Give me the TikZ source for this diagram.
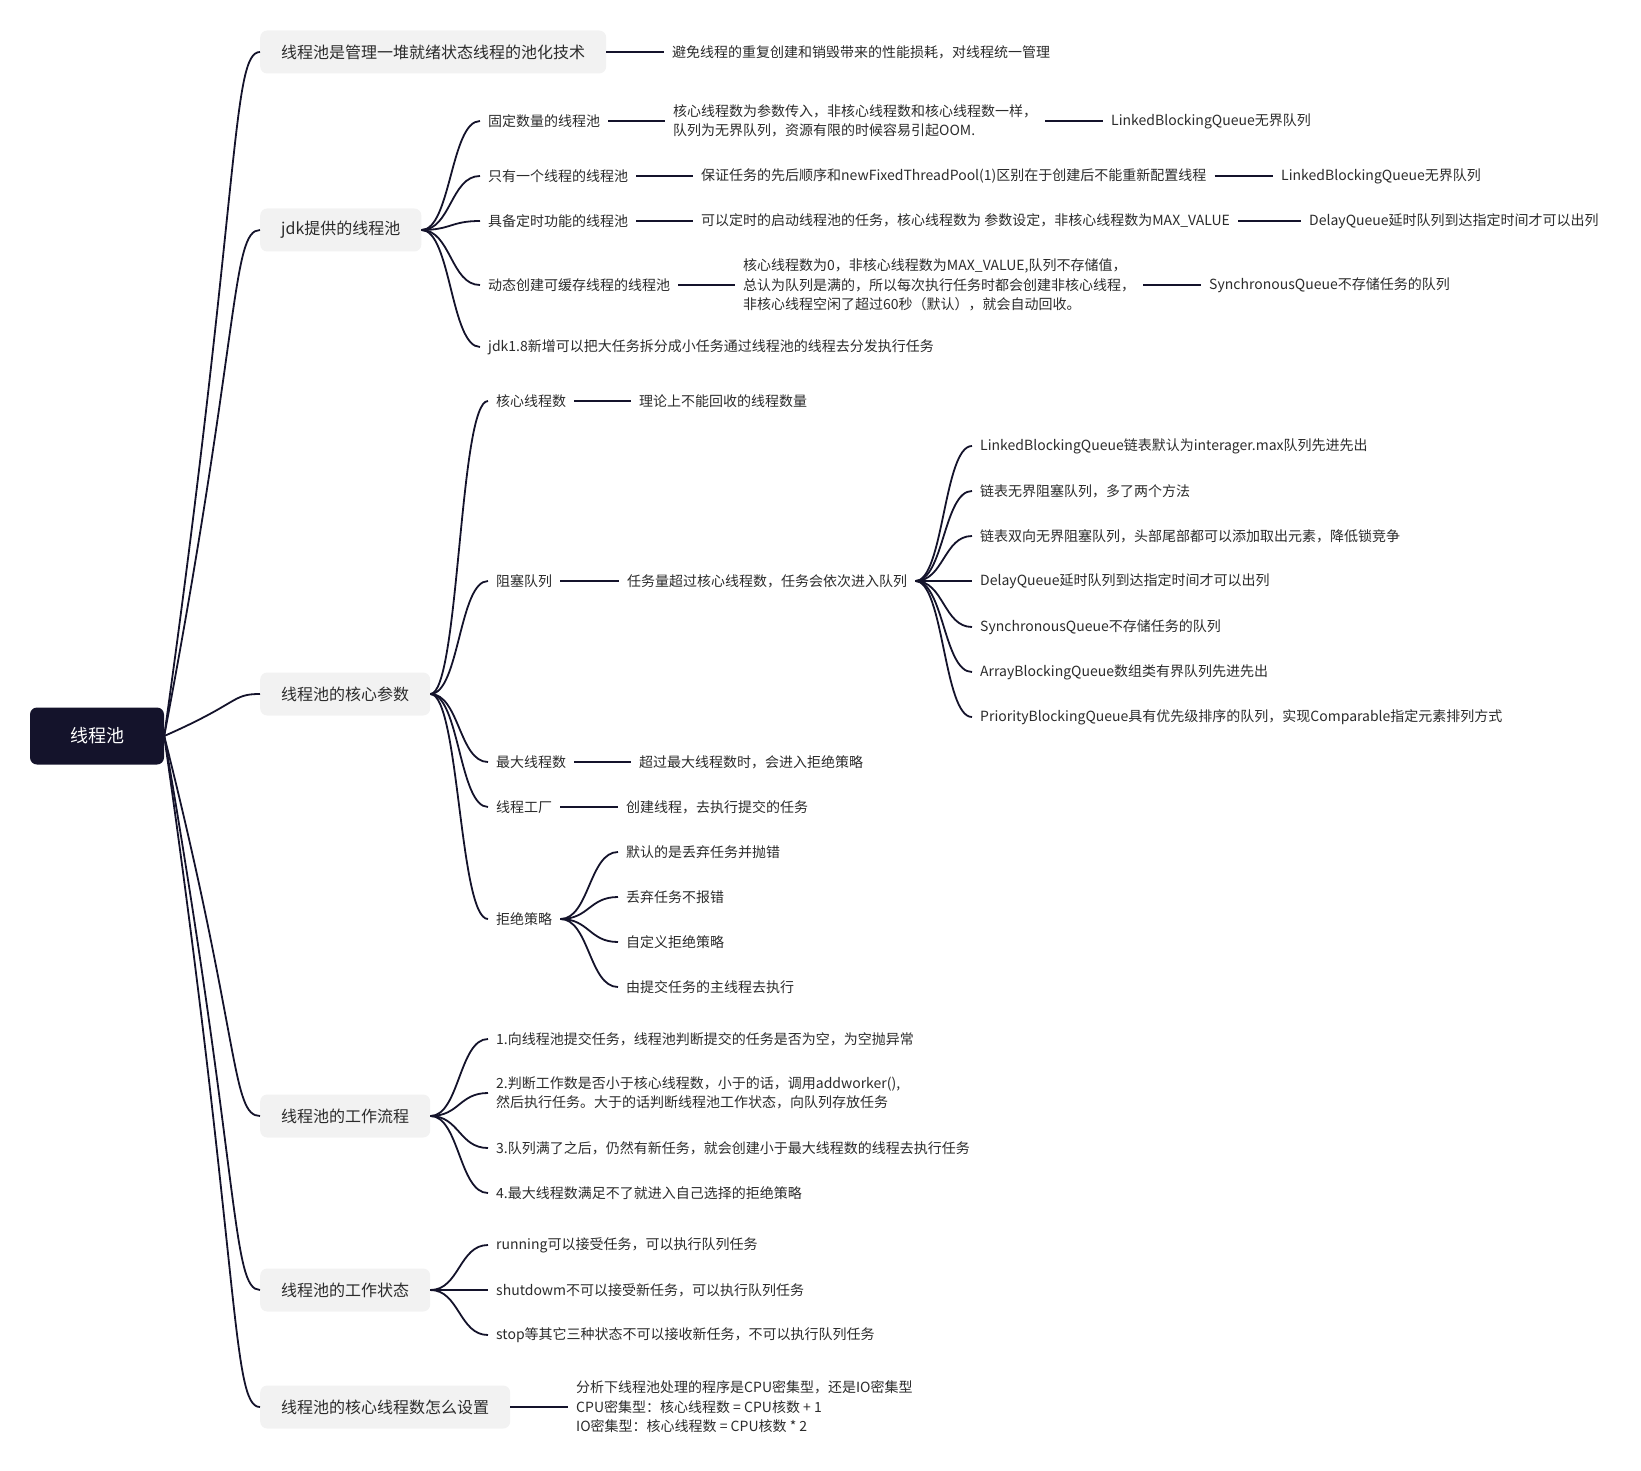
\documentclass[tikz,border=0pt]{standalone}
\usepackage{fontspec}
\setmainfont{Noto Sans CJK SC}
\usetikzlibrary{calc}

\definecolor{ink}{HTML}{14132B}
\definecolor{txt}{HTML}{2B2B2B}
\definecolor{boxgray}{HTML}{F2F2F2}

\tikzset{
  rootbox/.style={fill=ink, text=white, rounded corners=7pt, minimum width=134pt,
    minimum height=57pt, font=\fontsize{18}{22}\selectfont},
  topicbox/.style={fill=boxgray, text=txt, rounded corners=7pt, anchor=west,
    minimum height=43pt, inner xsep=21pt, font=\fontsize{16}{20}\selectfont},
  leaf/.style={anchor=west, text=txt, inner xsep=8pt, inner ysep=2pt, align=left,
    font=\fontsize{14}{19.5}\selectfont},
  link/.style={draw=ink, line width=1.8pt},
  trunk/.style={to path={.. controls ($(\tikztostart)!0.8!(\tikztotarget)$)
    and ($(\tikztotarget)!0.3!(\tikztostart|-\tikztotarget)$) .. (\tikztotarget) \tikztonodes}},
  twig/.style={to path={.. controls ($(\tikztostart)!0.5!(\tikztotarget|-\tikztostart)$)
    and ($(\tikztotarget)!0.5!(\tikztostart|-\tikztotarget)$) .. (\tikztotarget) \tikztonodes}},
}

\begin{document}
\begin{tikzpicture}[x=1pt,y=1pt]
  \useasboundingbox (0,0) rectangle (1641,-1471);

  % root and main topics
  \node[rootbox] (root) at (97,-736) {线程池};
  \node[topicbox] (b1) at (260,-52) {线程池是管理一堆就绪状态线程的池化技术};
  \node[topicbox] (b2) at (260,-230) {jdk提供的线程池};
  \node[topicbox] (b3) at (260,-694) {线程池的核心参数};
  \node[topicbox] (b4) at (260,-1116) {线程池的工作流程};
  \node[topicbox] (b5) at (260,-1290) {线程池的工作状态};
  \node[topicbox] (b6) at (260,-1407) {线程池的核心线程数怎么设置};
  \foreach \n in {b1,b2,b3,b4,b5,b6}
    \draw[link] (root.east) to[trunk] (\n.west);

  \node[leaf] (t1) at (664,-52) {避免线程的重复创建和销毁带来的性能损耗，对线程统一管理};
  \draw[link] (b1.east) -- (t1.west);

  % jdk pools
  \node[leaf] (f1) at (480,-121) {固定数量的线程池};
  \node[leaf] (f1a) at (665,-121) {核心线程数为参数传入，非核心线程数和核心线程数一样，\\队列为无界队列，资源有限的时候容易引起OOM.};
  \node[leaf] (f1b) at (1103,-121) {LinkedBlockingQueue无界队列};
  \node[leaf] (f2) at (480,-176) {只有一个线程的线程池};
  \node[leaf] (f2a) at (693,-176) {保证任务的先后顺序和newFixedThreadPool(1)区别在于创建后不能重新配置线程};
  \node[leaf] (f2b) at (1273,-176) {LinkedBlockingQueue无界队列};
  \node[leaf] (f3) at (480,-221) {具备定时功能的线程池};
  \node[leaf] (f3a) at (693,-221) {可以定时的启动线程池的任务，核心线程数为 参数设定，非核心线程数为MAX\_VALUE};
  \node[leaf] (f3b) at (1301,-221) {DelayQueue延时队列到达指定时间才可以出列};
  \node[leaf] (f4) at (480,-285) {动态创建可缓存线程的线程池};
  \node[leaf] (f4a) at (735,-285) {核心线程数为0，非核心线程数为MAX\_VALUE,队列不存储值，\\总认为队列是满的，所以每次执行任务时都会创建非核心线程，\\非核心线程空闲了超过60秒（默认），就会自动回收。};
  \node[leaf] (f4b) at (1201,-285) {SynchronousQueue不存储任务的队列};
  \node[leaf] (f5) at (480,-347) {jdk1.8新增可以把大任务拆分成小任务通过线程池的线程去分发执行任务};
  \foreach \i in {1,...,5}
    \draw[link] (b2.east) to[twig] (f\i.west);
  \foreach \i in {1,2,3,4} {
    \draw[link] (f\i.east) -- (f\i a.west);
    \draw[link] (f\i a.east) -- (f\i b.west);
  }

  % core parameters
  \node[leaf] (p1) at (488,-401) {核心线程数};
  \node[leaf] (p1a) at (631,-401) {理论上不能回收的线程数量};
  \node[leaf] (p2) at (488,-581) {阻塞队列};
  \node[leaf] (p2a) at (619,-581) {任务量超过核心线程数，任务会依次进入队列};
  \node[leaf] (p3) at (488,-762) {最大线程数};
  \node[leaf] (p3a) at (631,-762) {超过最大线程数时，会进入拒绝策略};
  \node[leaf] (p4) at (488,-807) {线程工厂};
  \node[leaf] (p4a) at (618,-807) {创建线程，去执行提交的任务};
  \node[leaf] (p5) at (488,-919) {拒绝策略};
  \foreach \i in {1,...,5}
    \draw[link] (b3.east) to[twig] (p\i.west);
  \foreach \i in {1,2,3,4}
    \draw[link] (p\i.east) -- (p\i a.west);

  \foreach \i/\y/\txt in {1/446/{LinkedBlockingQueue链表默认为interager.max队列先进先出},
      2/491/{链表无界阻塞队列，多了两个方法},
      3/536/{链表双向无界阻塞队列，头部尾部都可以添加取出元素，降低锁竞争},
      4/581/{DelayQueue延时队列到达指定时间才可以出列},
      5/627/{SynchronousQueue不存储任务的队列},
      6/672/{ArrayBlockingQueue数组类有界队列先进先出},
      7/717/{PriorityBlockingQueue具有优先级排序的队列，实现Comparable指定元素排列方式}} {
    \node[leaf] (q\i) at (972,-\y) {\txt};
    \draw[link] (p2a.east) to[twig] (q\i.west);
  }

  \foreach \i/\y/\txt in {1/852/默认的是丢弃任务并抛错, 2/897/丢弃任务不报错,
      3/942/自定义拒绝策略, 4/987/由提交任务的主线程去执行} {
    \node[leaf] (r\i) at (618,-\y) {\txt};
    \draw[link] (p5.east) to[twig] (r\i.west);
  }

  % work flow
  \node[leaf] (w1) at (488,-1039) {1.向线程池提交任务，线程池判断提交的任务是否为空，为空抛异常};
  \node[leaf] (w2) at (488,-1093) {2.判断工作数是否小于核心线程数，小于的话，调用addworker(),\\然后执行任务。大于的话判断线程池工作状态，向队列存放任务};
  \node[leaf] (w3) at (488,-1148) {3.队列满了之后，仍然有新任务，就会创建小于最大线程数的线程去执行任务};
  \node[leaf] (w4) at (488,-1193) {4.最大线程数满足不了就进入自己选择的拒绝策略};
  \foreach \i in {1,...,4}
    \draw[link] (b4.east) to[twig] (w\i.west);

  % work states
  \node[leaf] (s1) at (488,-1245) {running可以接受任务，可以执行队列任务};
  \node[leaf] (s2) at (488,-1290) {shutdowm不可以接受新任务，可以执行队列任务};
  \node[leaf] (s3) at (488,-1335) {stop等其它三种状态不可以接收新任务，不可以执行队列任务};
  \foreach \i in {1,2,3}
    \draw[link] (b5.east) to[twig] (s\i.west);

  % core size
  \node[leaf] (c1) at (568,-1407) {分析下线程池处理的程序是CPU密集型，还是IO密集型\\CPU密集型：核心线程数 = CPU核数 + 1\\IO密集型：核心线程数 = CPU核数 * 2};
  \draw[link] (b6.east) -- (c1.west);
\end{tikzpicture}
\end{document}
